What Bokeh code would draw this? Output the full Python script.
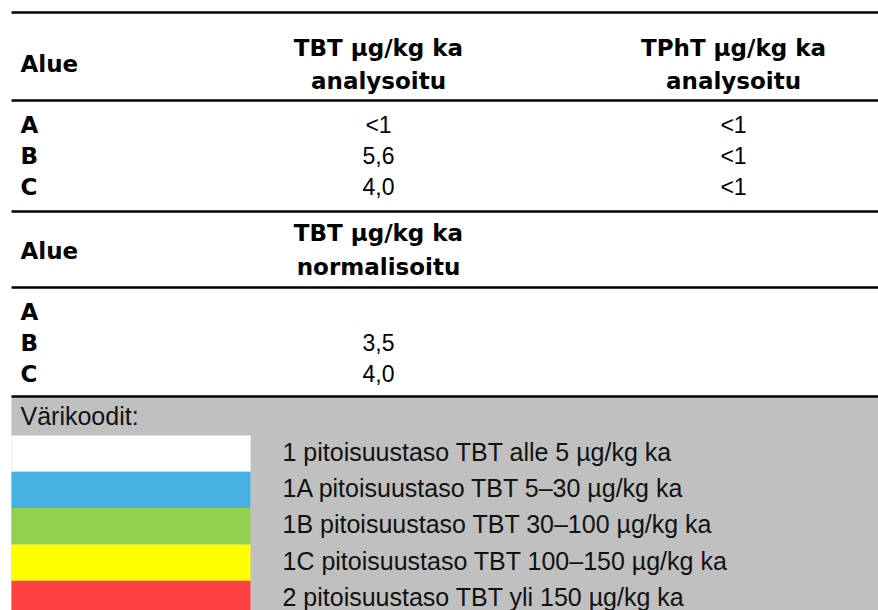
from bokeh.plotting import figure
from bokeh.models import Range1d, ColumnDataSource
from bokeh.core.properties import value
from bokeh.embed import file_html
from bokeh.resources import INLINE

# ---- data ----
regions = ["A", "B", "C"]
tbt_analysed = ["<1", "5,6", "4,0"]
tpht_analysed = ["<1", "<1", "<1"]
tbt_normalised = ["", "3,5", "4,0"]

region_header = "Alue"
header1_top = ["TBT µg/kg ka", "TPhT µg/kg ka"]
header1_bottom = ["analysoitu", "analysoitu"]
header2_top = ["TBT µg/kg ka"]
header2_bottom = ["normalisoitu"]

legend_title = "Värikoodit:"
class_labels = [
    "1 pitoisuustaso TBT alle 5 µg/kg ka",
    "1A pitoisuustaso TBT 5–30 µg/kg ka",
    "1B pitoisuustaso TBT 30–100 µg/kg ka",
    "1C pitoisuustaso TBT 100–150 µg/kg ka",
    "2 pitoisuustaso TBT yli 150 µg/kg ka",
]
class_colors = ["#FFFFFF", "#46B1E1", "#92D050", "#FFFF00", "#FF4040"]

# ---- layout (page pixel coordinates) ----
X0, X1 = 11, 878
LABEL_X = 20
COL_X = [378, 733]
ROW_PITCH = 31
SEC1_ROW0 = 124
SEC2_ROW0 = 311
RULES = [12, 100, 211, 287, 396]
GRAY_TOP = 397
SW_TOP0 = 435
SW_PITCH = 36.3
SW_X1 = 250
LEG_TEXT_X = 282

HEAD_FONT = value("DejaVu Sans")
BODY_FONT = value("Liberation Sans")

p = figure(width=878, height=610, output_backend="svg", toolbar_location=None,
           x_range=Range1d(0, 878), y_range=Range1d(610, 0),
           min_border=0, outline_line_color=None)
p.axis.visible = False
p.grid.visible = False
p.background_fill_color = "white"
p.border_fill_color = "white"

# gray legend background
p.quad(left=[X0], right=[X1], top=[GRAY_TOP], bottom=[612], fill_color="#C0C0C0", line_color=None)

# swatches
sw_top = [SW_TOP0 + i * SW_PITCH for i in range(len(class_colors))]
sw_bot = [t + SW_PITCH for t in sw_top]
p.quad(left=[X0] * len(class_colors), right=[SW_X1] * len(class_colors),
       top=sw_top, bottom=sw_bot, fill_color=class_colors, line_color=None)

# rules
p.segment(x0=[X0] * len(RULES), x1=[X1] * len(RULES), y0=RULES, y1=RULES,
          line_color="black", line_width=2.5)

def txt(xs, ys, texts, font, size, bold=False, align="center", color="black"):
    src = ColumnDataSource(dict(x=xs, y=ys, t=texts))
    p.text(x="x", y="y", text="t", source=src, text_font=font, text_font_size=size,
           text_font_style="bold" if bold else "normal", text_align=align,
           text_baseline="middle", text_color=color)

# section 1 headers
txt([LABEL_X], [63], [region_header], HEAD_FONT, "23px", bold=True, align="left")
txt(COL_X, [47] * 2, header1_top, HEAD_FONT, "23px", bold=True)
txt(COL_X, [80] * 2, header1_bottom, HEAD_FONT, "23px", bold=True)

rows1 = [SEC1_ROW0 + i * ROW_PITCH for i in range(len(regions))]
txt([LABEL_X] * 3, rows1, regions, HEAD_FONT, "23px", bold=True, align="left")
txt([COL_X[0]] * 3, rows1, tbt_analysed, BODY_FONT, "23px")
txt([COL_X[1]] * 3, rows1, tpht_analysed, BODY_FONT, "23px")

# section 2
txt([LABEL_X], [250], [region_header], HEAD_FONT, "23px", bold=True, align="left")
txt([COL_X[0]], [232], header2_top, HEAD_FONT, "23px", bold=True)
txt([COL_X[0]], [266], header2_bottom, HEAD_FONT, "23px", bold=True)

rows2 = [SEC2_ROW0 + i * ROW_PITCH for i in range(len(regions))]
txt([LABEL_X] * 3, rows2, regions, HEAD_FONT, "23px", bold=True, align="left")
txt([COL_X[0]] * 3, rows2, tbt_normalised, BODY_FONT, "23px")

# legend
txt([LABEL_X], [415], [legend_title], BODY_FONT, "25px", align="left", color="#111111")
leg_y = [t + SW_PITCH / 2 - 2 for t in sw_top]
txt([LEG_TEXT_X] * len(class_labels), leg_y, class_labels, BODY_FONT, "25px", align="left", color="#111111")

open("out.html", "w").write(file_html(p, INLINE))
